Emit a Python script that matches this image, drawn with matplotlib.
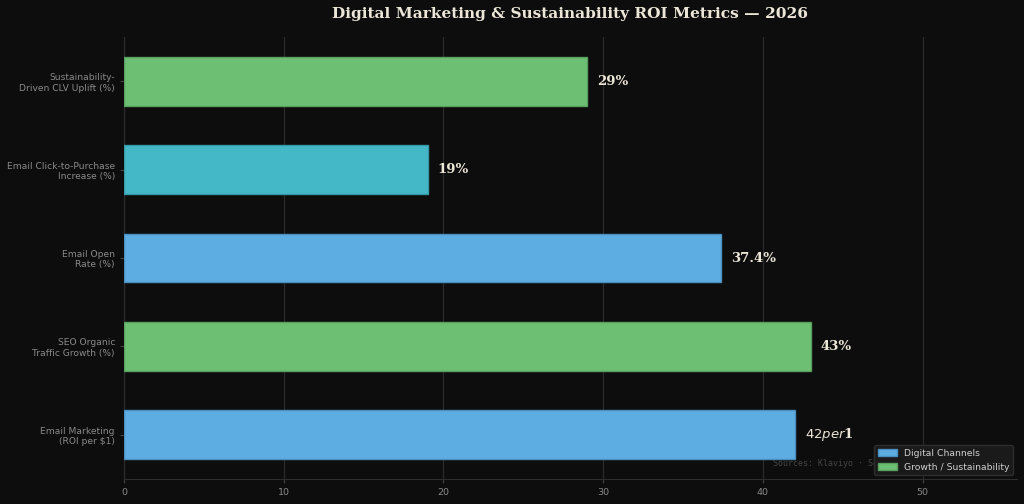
import matplotlib
matplotlib.use("Agg")
import matplotlib.pyplot as plt
from matplotlib.patches import Patch

categories = [
    "Email Marketing\n(ROI per $1)",
    "SEO Organic\nTraffic Growth (%)",
    "Email Open\nRate (%)",
    "Email Click-to-Purchase\nIncrease (%)",
    "Sustainability-\nDriven CLV Uplift (%)",
]
values = [42, 43, 37.4, 19, 29]
value_labels = ["$42 per $1", "43%", "37.4%", "19%", "29%"]
groups = ["digital", "growth", "digital", "email", "growth"]
xticks = [0, 10, 20, 30, 40, 50]

colors = {"digital": "#5dade2", "growth": "#6dbf73", "email": "#45b8c8"}
edges = {"digital": "#4a8fbf", "growth": "#58a05e", "email": "#3899a6"}

BG = "#0d0d0d"
fig = plt.figure(figsize=(10.24, 5.04), dpi=100, facecolor=BG)
ax = fig.add_axes([124 / 1024, 25 / 504, (1017 - 124) / 1024, (479 - 37) / 504])
ax.set_facecolor(BG)

ypos = list(range(len(categories)))
ax.barh(ypos, values, height=0.55,
        color=[colors[g] for g in groups],
        edgecolor=[edges[g] for g in groups], linewidth=1.0, zorder=3)

for y, v, lab in zip(ypos, values, value_labels):
    ax.text(v + 0.6, y, lab, va="center", ha="left", color="#ece6d8",
            fontsize=9.5, fontweight="bold", family="DejaVu Serif", zorder=4)

ax.set_xlim(0, 43 * 1.3)
ax.set_ylim(-0.5, 4.5)
ax.set_yticks(ypos)
ax.set_yticklabels(categories, fontsize=6.6, color="#8a8a8a")
ax.set_xticks(xticks)
ax.set_xticklabels([str(t) for t in xticks], fontsize=6.8, color="#8a8a8a")
ax.tick_params(axis="both", colors="#444444", length=3)
for lab in ax.get_xticklabels() + ax.get_yticklabels():
    lab.set_color("#8a8a8a")

ax.grid(axis="x", color="#2a2a2a", linewidth=0.9, zorder=0)
ax.set_axisbelow(True)
for s in ["top", "right"]:
    ax.spines[s].set_visible(False)
for s in ["left", "bottom"]:
    ax.spines[s].set_color("#2e2e2e")

ax.set_title("Digital Marketing & Sustainability ROI Metrics — 2026",
             fontsize=11.1, fontweight="bold", family="DejaVu Serif",
             color="#ece6d8", pad=14)

ax.text(0.99, 0.025, "Sources: Klaviyo · Semrush · HubSpot · Deloitte",
        transform=ax.transAxes, ha="right", va="bottom", fontsize=6,
        family="DejaVu Sans Mono", color="#454545", zorder=2)

handles = [Patch(facecolor=colors["digital"], edgecolor=edges["digital"], label="Digital Channels"),
           Patch(facecolor=colors["growth"], edgecolor=edges["growth"], label="Growth / Sustainability")]
leg = ax.legend(handles=handles, loc="lower right", fontsize=6.7,
                facecolor="#1a1a1a", edgecolor="#2e2e2e", framealpha=1.0,
                borderaxespad=0.4)
for t in leg.get_texts():
    t.set_color("#cfcfcf")
leg.set_zorder(5)

fig.savefig("out.png", dpi=100, facecolor=BG)
